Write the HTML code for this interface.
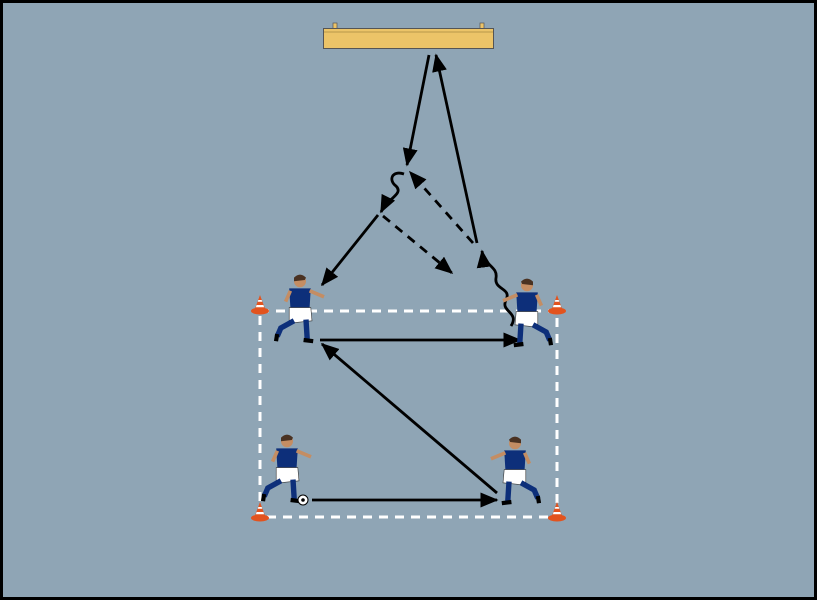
<!DOCTYPE html>
<html><head><meta charset="utf-8"><style>
html,body{margin:0;padding:0;background:#000;}
svg{display:block;}
</style></head><body>
<svg width="817" height="600" viewBox="0 0 817 600" xmlns="http://www.w3.org/2000/svg">
<defs>
<marker id="a" viewBox="0 0 12 10" refX="11" refY="5" markerWidth="18" markerHeight="15" markerUnits="userSpaceOnUse" orient="auto"><path d="M0,0 L12,5 L0,10 z" fill="#000"/></marker>
<g id="cone">
<ellipse cx="0" cy="5" rx="9" ry="3.5" fill="#e2531e"/>
<path d="M-5.5,4 L0,-11 L5.5,4 z" fill="#e2531e"/>
<path d="M-3.4,-1 L3.4,-1 L4.1,1.2 L-4.1,1.2 z" fill="#fff"/>
<path d="M-1.7,-6 L1.7,-6 L2.2,-4.3 L-2.2,-4.3 z" fill="#fff"/>
</g>
<g id="pl">
<circle cx="0" cy="-24" r="5" fill="#c48d63"/>
<path d="M-5,-27 Q0,-32 5,-27 L4,-25 L-5,-24 z" fill="#4a3222"/>
<path d="M-9,-18 L9,-18 L8,-2 L-8,-2 z" fill="#0d2f7a"/>
<path d="M8,-16 L20,-11" stroke="#c48d63" stroke-width="3"/>
<path d="M-8,-16 L-12,-7" stroke="#c48d63" stroke-width="3"/>
<path d="M-9,-2 L9,-2 L10,9 L-9,11 z" fill="#fff" stroke="#333" stroke-width="0.5"/>
<path d="M-5,9 L-16,15 L-19,22" stroke="#0d2f7a" stroke-width="4.5" fill="none"/>
<path d="M5,8 L6,24" stroke="#0d2f7a" stroke-width="4.5" fill="none"/>
<path d="M3,25 L11,26" stroke="#000" stroke-width="3.5"/>
<path d="M-19,20 L-20,26" stroke="#000" stroke-width="3.5"/>
</g>
</defs>
<rect x="1.5" y="1.5" width="814" height="597" fill="#8fa5b5" stroke="#000" stroke-width="3"/>
<rect x="333" y="23" width="4" height="6" fill="#ecc468" stroke="#555" stroke-width="0.7"/>
<rect x="480" y="23" width="4" height="6" fill="#ecc468" stroke="#555" stroke-width="0.7"/>
<rect x="323.5" y="28.5" width="170" height="20" fill="#ecc468" stroke="#555" stroke-width="1"/>
<line x1="324" y1="32" x2="493" y2="32" stroke="#a88a40" stroke-width="0.8"/>
<rect x="260" y="311" width="297" height="206" fill="none" stroke="#fff" stroke-width="3" stroke-dasharray="9,7"/>
<use href="#cone" x="260" y="306"/>
<use href="#cone" x="557" y="306"/>
<use href="#cone" x="260" y="513"/>
<use href="#cone" x="557" y="513"/>
<g stroke="#000" stroke-width="2.8" fill="none">
<line x1="429" y1="55" x2="407" y2="165" marker-end="url(#a)"/>
<line x1="477" y1="243" x2="436" y2="55" marker-end="url(#a)"/>
<path d="M404,174 C392,170 388,180 396,186 C404,194 388,198 381,212" marker-end="url(#a)"/>
<line x1="378" y1="215" x2="322" y2="285" marker-end="url(#a)"/>
<line x1="383" y1="216" x2="452" y2="273" stroke-dasharray="9,7" marker-end="url(#a)"/>
<line x1="473" y1="243" x2="410" y2="172" stroke-dasharray="9,7" marker-end="url(#a)"/>
<path d="M511,326 C520,312 500,312 506,300 C512,288 494,290 496,278 C498,266 484,266 482,251" marker-end="url(#a)"/>
<line x1="320" y1="340" x2="520" y2="340" marker-end="url(#a)"/>
<line x1="497" y1="493" x2="322" y2="344" marker-end="url(#a)"/>
<line x1="312" y1="500" x2="497" y2="500" marker-end="url(#a)"/>
</g>
<g transform="translate(300,310) scale(1.2)"><use href="#pl"/></g>
<g transform="translate(527,314) scale(-1.2,1.2)"><use href="#pl"/></g>
<g transform="translate(287,470) scale(1.2)"><use href="#pl"/></g>
<g transform="translate(515,472) scale(-1.2,1.2)"><use href="#pl"/></g>
<circle cx="303" cy="500" r="5" fill="#fff" stroke="#000" stroke-width="1"/>
<circle cx="303" cy="500" r="1.8" fill="#000"/>
</svg>
</body></html>
